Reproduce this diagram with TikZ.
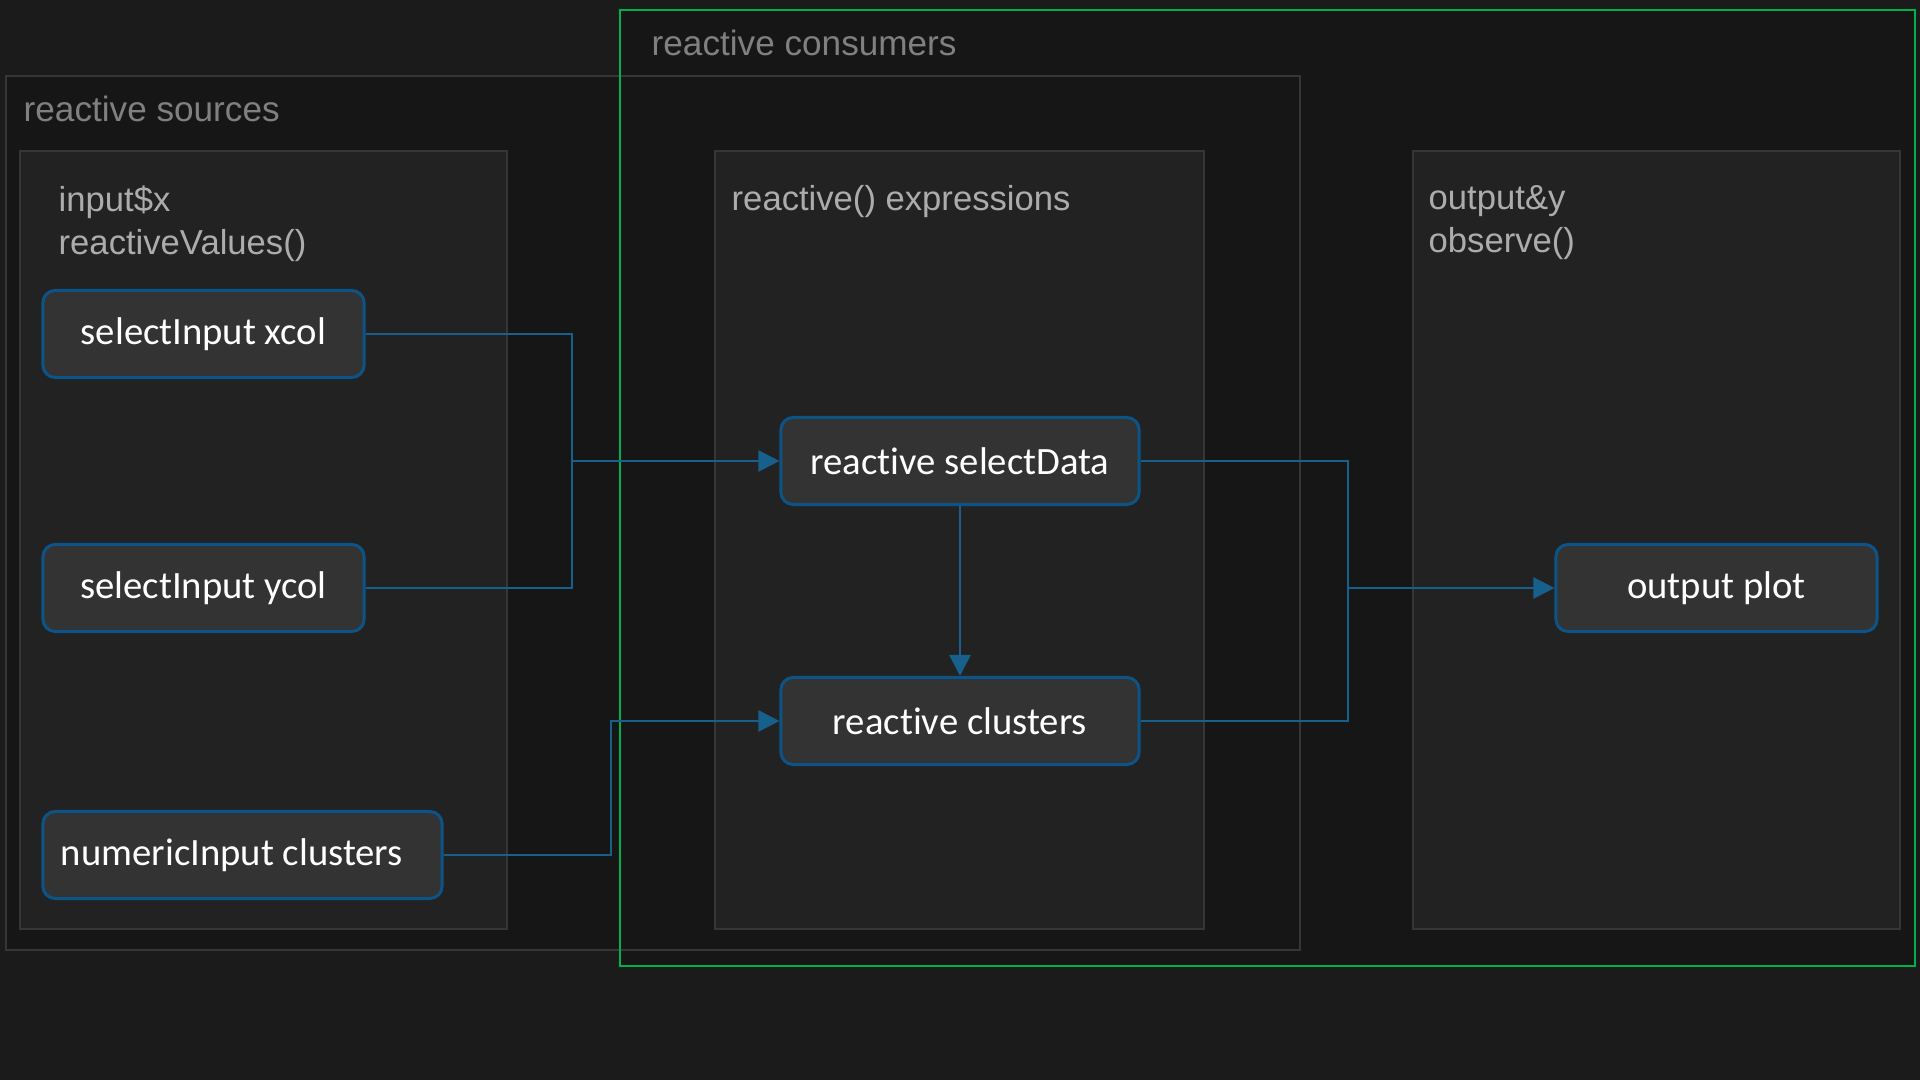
\documentclass[tikz,border=0pt]{standalone}
\usepackage{fontspec}
\setmainfont{Liberation Sans}
\newfontfamily\nodefont[Ligatures=NoCommon]{Carlito}
\usetikzlibrary{positioning,arrows.meta,calc}
\definecolor{bgcol}      {RGB}{27,27,27}
\definecolor{groupcol}   {RGB}{22,22,22}
\definecolor{framecol}   {RGB}{54,54,54}
\definecolor{panelcol}   {RGB}{34,34,34}
\definecolor{nodecol}    {RGB}{51,51,51}
\definecolor{edgecol}    {RGB}{12,84,135}
\definecolor{wirecol}    {RGB}{24,96,140}
\definecolor{consumercol}{RGB}{0,176,80}
\definecolor{grouptext}  {RGB}{128,128,128}
\definecolor{paneltext}  {RGB}{172,172,172}
\begin{document}
\begin{tikzpicture}[
  x=0.01cm,y=-0.01cm,
  rnode/.style={rectangle,rounded corners=3.5pt,draw=edgecol,fill=nodecol,
                line width=0.85pt,minimum height=0.87cm,inner sep=0pt,
                text=white,font=\nodefont\fontsize{11}{13}\selectfont},
  panel/.style={draw=framecol,fill=panelcol,line width=0.7pt},
  glabel/.style={anchor=west,inner sep=0pt,text=grouptext,font=\fontsize{10}{12}\selectfont},
  plabel/.style={anchor=north west,align=left,inner sep=0pt,text=paneltext,
                 font=\fontsize{9.85}{12.2}\selectfont},
  wire/.style={draw=wirecol,line width=0.75pt},
  >={Triangle[length=6pt,width=6pt]}
]
\useasboundingbox (0,0) rectangle (1920,1080);
\fill[bgcol] (0,0) rectangle (1920,1080);
% groups
\fill[groupcol] (6,76) rectangle (1300,950);
\fill[groupcol] (620,10) rectangle (1915,966);
\draw[framecol,line width=0.7pt] (6,76) rectangle (1300,950);
\draw[consumercol,line width=0.75pt] (620,10) rectangle (1915,966);
\node[glabel] (lblsrc) at (23,109) {reactive sources};
\node[glabel] (lblcon) at (651,43)  {reactive consumers};
% panels
\draw[panel] (20,151)   rectangle (507,929);
\draw[panel] (715,151)  rectangle (1204,929);
\draw[panel] (1413,151) rectangle (1900,929);
\node[plabel] (lblin)  at (58,185)   {input\$x\\reactiveValues()};
\node[plabel] (lblrx)  at (731,185)  {reactive() expressions};
\node[plabel] (lblout) at (1428,185) {output\&y\\observe()};
% nodes
\node[rnode,minimum width=3.21cm] (xcol) at (203.5,334) {selectInput xcol};
\node[rnode,minimum width=3.21cm] (ycol) at (203.5,588) {selectInput ycol};
\node[rnode,minimum width=3.99cm,text width=3.63cm,align=flush left,inner xsep=0.18cm]
  (num)  at (242.5,855) {numericInput clusters};
\node[rnode,minimum width=3.58cm] (sel)  at (960,461)   {reactive selectData};
\node[rnode,minimum width=3.58cm] (clu)  at (960,721)   {reactive clusters};
\node[rnode,minimum width=3.21cm] (plot) at (1716.5,588) {output plot};
% connectors
\coordinate (jin)  at (572,461);
\coordinate (jnum) at (611,721);
\coordinate (jout) at (1348,588);
\draw[wire] (xcol.east) -| (jin);
\draw[wire] (ycol.east) -| (jin);
\draw[wire,->] (jin) -- (sel.west);
\draw[wire,->] (num.east) -| (jnum) -- (clu.west);
\draw[wire,->] (sel.south) -- (clu.north);
\draw[wire] (sel.east) -| (jout);
\draw[wire] (clu.east) -| (jout);
\draw[wire,->] (jout) -- (plot.west);
\end{tikzpicture}
\end{document}
